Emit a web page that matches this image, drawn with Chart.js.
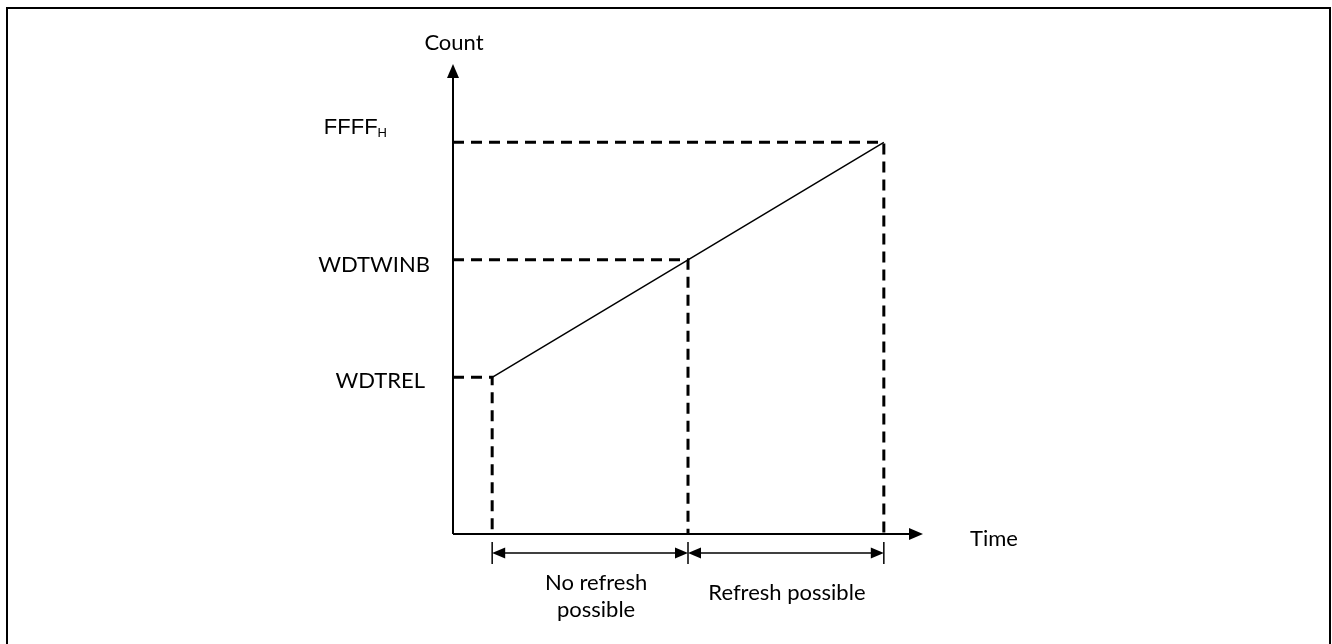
<!DOCTYPE html>
<html>
<head>
<meta charset="utf-8">
<script src="https://cdn.jsdelivr.net/npm/chart.js@4/dist/chart.umd.min.js"></script>
<style>
  body { margin: 0; background: #fff; }
  canvas { display: block; }
</style>
</head>
<body>
<canvas id="wdtChart" width="1332" height="644"></canvas>
<script>
// time points where the counter is at reload / window boundary / overflow
const times = [1, 6, 11]
const counts = [40, 70, 100]
const levelLabels = ['WDTREL', 'WDTWINB', 'FFFF']
const rangeLabels = [['No refresh', 'possible'], ['Refresh possible']]
const axisMax = { x: 12, y: 120 }

const guideSets = times.map((t, i) => ({
    data: [{ x: 0, y: counts[i] }, { x: t, y: counts[i] }, { x: t, y: 0 }],
    borderColor: '#000',
    borderWidth: 3,
    borderDash: [11, 7],
    pointRadius: 0,
    fill: false
}))

const countLine = {
    data: times.map((t, i) => ({ x: t, y: counts[i] })),
    borderColor: '#000',
    borderWidth: 1.5,
    pointRadius: 0,
    fill: false
}

const font = '22px Lato'

function arrowHead(ctx, x, y, dir, len, half) {
    // dir: 'up' | 'right' | 'left'
    ctx.beginPath()
    if (dir === 'up') {
        ctx.moveTo(x, y); ctx.lineTo(x - half, y + len); ctx.lineTo(x + half, y + len)
    } else if (dir === 'right') {
        ctx.moveTo(x, y); ctx.lineTo(x - len, y - half); ctx.lineTo(x - len, y + half)
    } else {
        ctx.moveTo(x, y); ctx.lineTo(x + len, y - half); ctx.lineTo(x + len, y + half)
    }
    ctx.closePath()
    ctx.fill()
}

const diagramPlugin = {
    id: 'diagram',
    beforeDraw(chart) {
        const ctx = chart.ctx
        ctx.save()
        // frame (bottom edge is outside the picture)
        ctx.strokeStyle = '#000'
        ctx.lineWidth = 2
        ctx.beginPath()
        ctx.moveTo(7, 660); ctx.lineTo(7, 8); ctx.lineTo(1330, 8); ctx.lineTo(1330, 660)
        ctx.stroke()
        ctx.restore()
    },
    afterDatasetsDraw(chart) {
        const ctx = chart.ctx
        const xs = chart.scales.x, ys = chart.scales.y
        const x0 = xs.getPixelForValue(0), y0 = ys.getPixelForValue(0)
        const xEnd = xs.getPixelForValue(axisMax.x), yEnd = ys.getPixelForValue(axisMax.y)
        ctx.save()
        ctx.strokeStyle = '#000'
        ctx.fillStyle = '#000'

        // axes
        ctx.lineWidth = 2
        ctx.beginPath()
        ctx.moveTo(x0, y0); ctx.lineTo(xEnd - 12, y0)
        ctx.moveTo(x0, y0); ctx.lineTo(x0, yEnd + 12)
        ctx.stroke()
        arrowHead(ctx, xEnd, y0, 'right', 14, 6)
        arrowHead(ctx, x0, yEnd, 'up', 14, 6)

        // extension lines and dimension arrows
        const dimY = y0 + 19
        ctx.lineWidth = 1.5
        times.forEach(t => {
            const px = xs.getPixelForValue(t)
            ctx.beginPath()
            ctx.moveTo(px, y0 + 8); ctx.lineTo(px, y0 + 30)
            ctx.stroke()
        })
        for (let i = 0; i < times.length - 1; i++) {
            const a = xs.getPixelForValue(times[i]), b = xs.getPixelForValue(times[i + 1])
            ctx.beginPath()
            ctx.moveTo(a + 12, dimY); ctx.lineTo(b - 12, dimY)
            ctx.stroke()
            arrowHead(ctx, a, dimY, 'left', 13, 5.5)
            arrowHead(ctx, b, dimY, 'right', 13, 5.5)
        }

        // texts
        ctx.font = font
        ctx.textBaseline = 'alphabetic'
        ctx.textAlign = 'center'
        ctx.fillText('Count', x0 + 1, yEnd - 14)

        ctx.textAlign = 'left'
        ctx.fillText('Time', xEnd + 47, y0 + 12)

        ctx.textAlign = 'right'
        ctx.fillText(levelLabels[0], x0 - 28, ys.getPixelForValue(counts[0]) + 11)
        ctx.fillText(levelLabels[1], x0 - 23, ys.getPixelForValue(counts[1]) + 12)

        // FFFF with subscript H
        const fy = ys.getPixelForValue(counts[2])
        ctx.font = '13px "Liberation Sans"'
        ctx.fillText('H', x0 - 66, fy - 5)
        const hw = ctx.measureText('H').width
        ctx.font = '22px "Liberation Sans"'
        ctx.fillText(levelLabels[2], x0 - 66 - hw, fy - 8)

        ctx.font = font
        ctx.textAlign = 'center'
        rangeLabels.forEach((lines, i) => {
            const mid = (xs.getPixelForValue(times[i]) + xs.getPixelForValue(times[i + 1])) / 2
            const off = i === 0 ? 6 : 1
            const baseY = lines.length > 1 ? y0 + 56 : y0 + 66
            lines.forEach((txt, j) => ctx.fillText(txt, mid + off, baseY + j * 27))
        })
        ctx.restore()
    }
}

new Chart('wdtChart', {
    type: 'line',
    data: { datasets: [...guideSets, countLine] },
    options: {
        responsive: false,
        animation: false,
        layout: { padding: { left: 453, right: 409, top: 64, bottom: 110 } },
        scales: {
            x: { type: 'linear', min: 0, max: axisMax.x, display: false },
            y: { type: 'linear', min: 0, max: axisMax.y, display: false }
        },
        plugins: { legend: { display: false }, tooltip: { enabled: false } }
    },
    plugins: [diagramPlugin]
})
</script>
</body>
</html>
